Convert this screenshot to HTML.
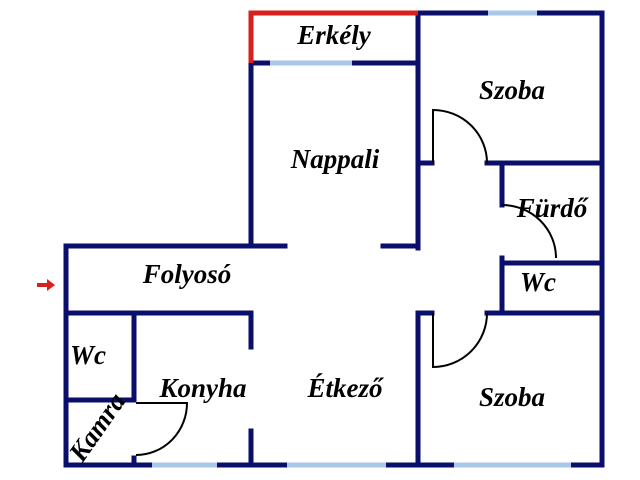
<!DOCTYPE html>
<html><head><meta charset="utf-8"><style>
html,body{margin:0;padding:0;background:#fff;}
svg{display:block;}
text{font-family:"Liberation Serif",serif;font-weight:bold;font-style:italic;font-size:27px;fill:#000;}
</style></head><body>
<svg width="640" height="480" viewBox="0 0 640 480">
<g stroke="#0a0f6b" stroke-width="5" fill="none" stroke-linecap="square">
<line x1="418" y1="13" x2="602" y2="13"/>
<line x1="602" y1="13" x2="602" y2="465"/>
<line x1="251" y1="63" x2="418" y2="63"/>
<line x1="251" y1="63" x2="251" y2="246"/>
<line x1="418" y1="13" x2="418" y2="248"/>
<line x1="418" y1="163" x2="432" y2="163"/>
<line x1="487" y1="163" x2="602" y2="163"/>
<line x1="502" y1="163" x2="502" y2="205"/>
<line x1="502" y1="263" x2="602" y2="263"/>
<line x1="502" y1="258" x2="502" y2="313"/>
<line x1="487" y1="313" x2="602" y2="313"/>
<line x1="418" y1="313" x2="432" y2="313"/>
<line x1="418" y1="313" x2="418" y2="465"/>
<line x1="66" y1="246" x2="285" y2="246"/>
<line x1="383" y1="246" x2="418" y2="246"/>
<line x1="66" y1="246" x2="66" y2="465"/>
<line x1="66" y1="313" x2="251" y2="313"/>
<line x1="251" y1="313" x2="251" y2="347"/>
<line x1="251" y1="431" x2="251" y2="465"/>
<line x1="134" y1="313" x2="134" y2="400"/>
<line x1="66" y1="400" x2="134" y2="400"/>
<line x1="134" y1="458" x2="134" y2="465"/>
<line x1="66" y1="465" x2="602" y2="465"/>
</g>
<polyline points="251,63 251,13 418,13" stroke="#d8201c" stroke-width="5" fill="none"/>
<g stroke="#a9c8e8" stroke-width="5">
<line x1="488" y1="13" x2="537" y2="13"/>
<line x1="270" y1="63" x2="352" y2="63"/>
<line x1="152" y1="465" x2="217" y2="465"/>
<line x1="287" y1="465" x2="386" y2="465"/>
<line x1="454" y1="465" x2="571" y2="465"/>
</g>
<g stroke="#000" stroke-width="2" fill="none">
<path d="M433,163 L433,110 A54,53 0 0 1 487,163"/>
<path d="M502,205 A54,53 0 0 1 556,258"/>
<path d="M433,313 L433,367 A54,54 0 0 0 487,313"/>
<path d="M136,403 L187,403 A51,52 0 0 1 136,455"/>
</g>
<path d="M37,283 L47,283 L47,279 L55,285 L47,291 L47,287 L37,287 Z" fill="#d8201c"/>
<text x="334" y="44" text-anchor="middle">Erkély</text>
<text x="512" y="99" text-anchor="middle">Szoba</text>
<text x="335" y="168" text-anchor="middle">Nappali</text>
<text x="552" y="217" text-anchor="middle">Fürdő</text>
<text x="187" y="283" text-anchor="middle">Folyosó</text>
<text x="538" y="291" text-anchor="middle">Wc</text>
<text x="88" y="364" text-anchor="middle">Wc</text>
<text x="203" y="397" text-anchor="middle">Konyha</text>
<text x="345" y="397" text-anchor="middle">Étkező</text>
<text x="512" y="406" text-anchor="middle">Szoba</text>
<text x="97" y="436" text-anchor="middle" transform="rotate(-55 97 427)">Kamra</text>
</svg>
</body></html>
